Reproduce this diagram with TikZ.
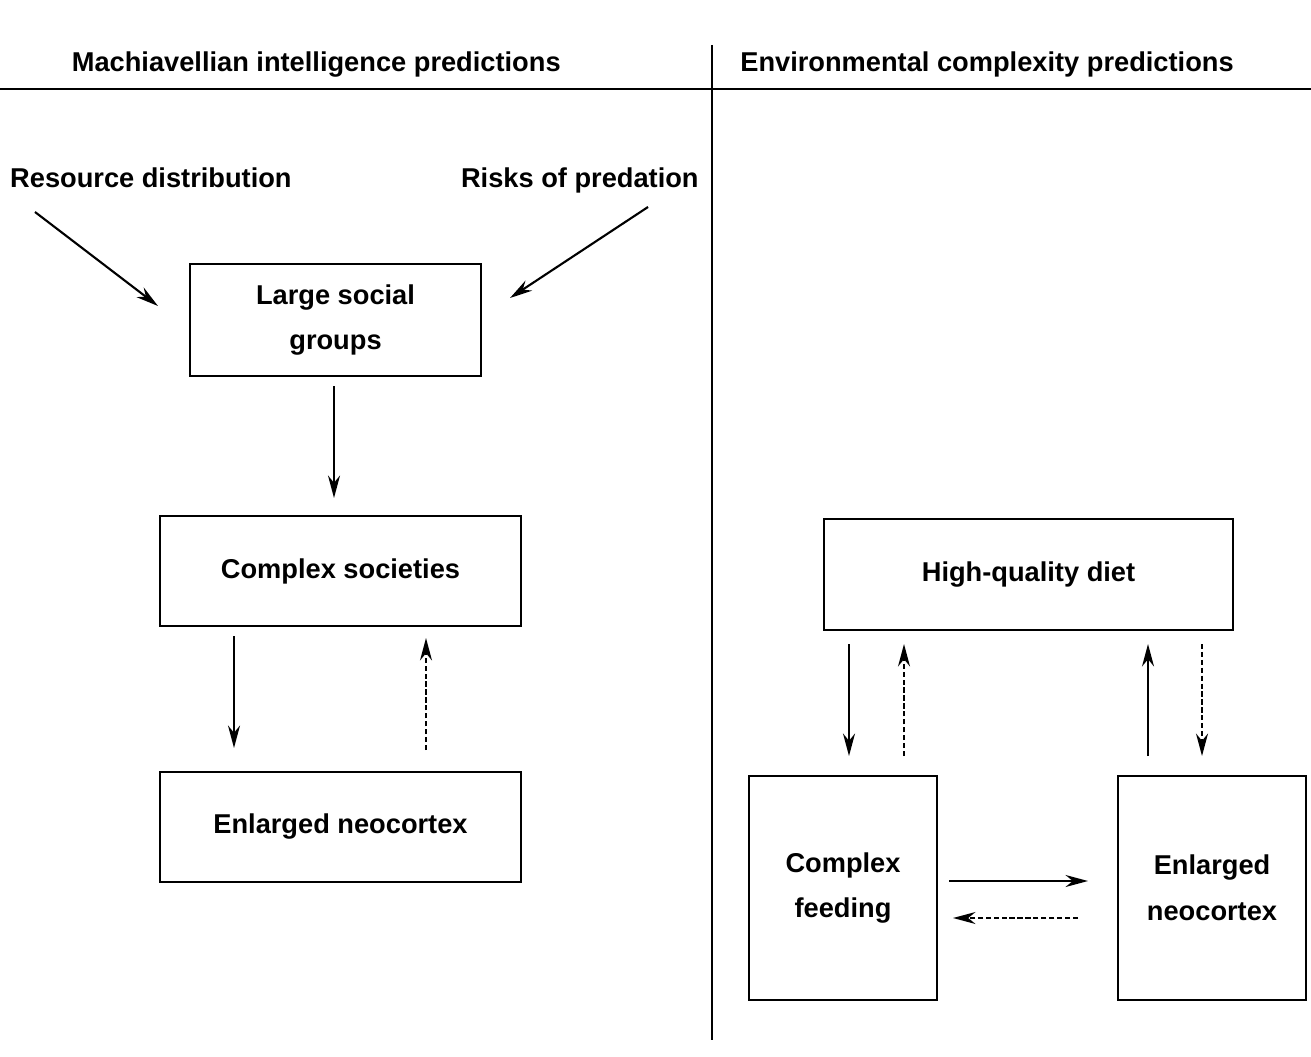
\documentclass[tikz,border=0pt]{standalone}
\usepackage{fontspec}
\setmainfont{Liberation Sans}
\usetikzlibrary{arrows.meta}
\begin{document}
\begin{tikzpicture}[x=0.02cm,y=-0.02cm,
  lbl/.style={font=\fontsize{15.5}{19}\selectfont\bfseries, inner sep=0pt},
  box/.style={draw, line width=1.2pt, font=\fontsize{15.5}{26}\selectfont\bfseries, align=center, inner sep=0pt},
  arr/.style={line width=1.2pt, -{Stealth[length=0.45cm,width=0.24cm]}},
  darr/.style={arr, dash pattern=on 3pt off 1.5pt, line width=0.9pt}]
\useasboundingbox (0,0) rectangle (1311,1057);
\clip (0,0) rectangle (1311,1057);
\draw[line width=1.2pt] (0,89) -- (1311,89);
\draw[line width=1.5pt] (712,45) -- (712,1040);
\node[lbl, anchor=base east] (t1) at (561,72) {Machiavellian intelligence predictions};
\node[lbl, anchor=base west] (t2) at (740,72) {Environmental complexity predictions};
\node[lbl, anchor=base east] (rd) at (292,188) {Resource distribution};
\node[lbl, anchor=base east] (rp) at (699,188) {Risks of predation};
\node[box, minimum width=5.82cm, minimum height=2.24cm] (lsg) at (335.5,320) {Large social\\groups};
\node[box, minimum width=7.22cm, minimum height=2.2cm] (cs) at (340.5,571) {Complex societies};
\node[box, minimum width=7.22cm, minimum height=2.2cm] (en) at (340.5,827) {Enlarged neocortex};
\node[box, minimum width=8.18cm, minimum height=2.22cm] (hq) at (1028.5,574.5) {High-quality diet};
\node[box, minimum width=3.76cm, minimum height=4.48cm] (cf) at (843,888) {Complex\\feeding};
\node[box, minimum width=3.76cm, minimum height=4.48cm] (en2) at (1212,888) {Enlarged\\neocortex};
\coordinate (a1) at (35,212); \coordinate (a1e) at (158,306);
\coordinate (a2) at (648,207); \coordinate (a2e) at (510,298);
\draw[arr] (a1) -- (a1e);
\draw[arr] (a2) -- (a2e);
\draw[arr] (334,386) -- (334,498);
\draw[arr] (234,636) -- (234,748);
\draw[darr] (426,750) -- (426,638);
\draw[arr] (849,644) -- (849,756);
\draw[darr] (904,756) -- (904,644);
\draw[arr] (1148,756) -- (1148,644);
\draw[darr] (1202,644) -- (1202,756);
\draw[arr] (949,881) -- (1088,881);
\draw[darr] (1078,918) -- (953,918);
\end{tikzpicture}
\end{document}
